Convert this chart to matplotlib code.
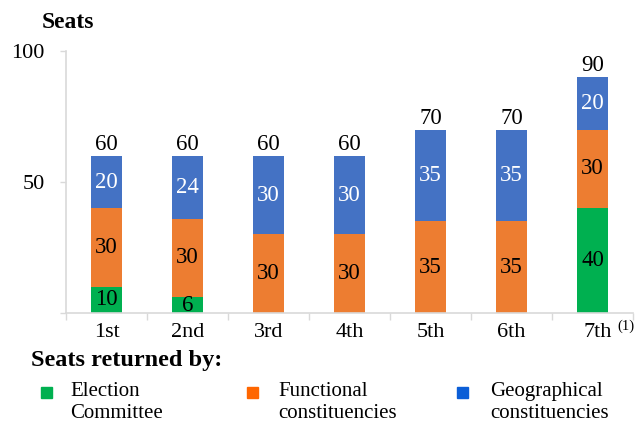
import matplotlib.pyplot as plt
import matplotlib.transforms as mtransforms
import numpy as np

plt.rcParams['font.family'] = ['Liberation Serif', 'DejaVu Serif']

categories = ['1st', '2nd', '3rd', '4th', '5th', '6th', '7th']
election_committee = [10, 6, 0, 0, 0, 0, 40]
functional = [30, 30, 30, 30, 35, 35, 30]
geographical = [20, 24, 30, 30, 35, 35, 20]
series_names = ['Election\nCommittee', 'Functional\nconstituencies', 'Geographical\nconstituencies']

c_green = '#00B050'
c_orange = '#ED7D31'
c_blue = '#4472C4'
leg_colors = ['#00B050', '#FF6600', '#0B5ED7']

fig = plt.figure(figsize=(6.38, 4.23), dpi=100)
W, H = 638, 423
ax = fig.add_axes([66 / W, 1 - 313 / H, (633 - 66) / W, (313 - 51) / H])

x = np.arange(len(categories))
ec = np.array(election_committee)
fc = np.array(functional)
gc = np.array(geographical)
bw = 0.395
ax.bar(x, ec, bw, color=c_green)
ax.bar(x, fc, bw, bottom=ec, color=c_orange)
ax.bar(x, gc, bw, bottom=ec + fc, color=c_blue)

fs = 16.5
for i in range(len(x)):
    if ec[i] > 0:
        ax.text(x[i], ec[i] / 2, str(ec[i]), ha='center', va='center', fontsize=fs, color='black')
    ax.text(x[i], ec[i] + fc[i] / 2, str(fc[i]), ha='center', va='center', fontsize=fs, color='black')
    ax.text(x[i], ec[i] + fc[i] + gc[i] / 2, str(gc[i]), ha='center', va='center', fontsize=fs, color='white')
    tot = ec[i] + fc[i] + gc[i]
    ax.text(x[i], tot + 0.3, str(tot), ha='center', va='bottom', fontsize=fs, color='black')

ax.set_xlim(-0.5, 6.5)
ax.set_ylim(0, 100)
ax.set_yticks([0, 50, 100])
ax.set_yticklabels(['', '50', '100'], fontsize=16)
ax.set_xticks(x)
ax.set_xticklabels(categories, fontsize=16)
ax.tick_params(axis='x', length=0, pad=7.5)
ax.set_xticks(np.arange(-0.5, 7, 1), minor=True)
ax.tick_params(axis='x', which='minor', length=5, color='#D9D9D9', width=1)
ax.tick_params(axis='y', length=4.5, color='#D9D9D9', width=1, pad=11)
lbl = ax.get_xticklabels()[-1]
lbl.set_transform(lbl.get_transform() + mtransforms.ScaledTranslation(5 / 100, 0, fig.dpi_scale_trans))
for s in ['top', 'right']:
    ax.spines[s].set_visible(False)
for s in ['left', 'bottom']:
    ax.spines[s].set_color('#D9D9D9')
    ax.spines[s].set_linewidth(1.2)

fig.text(42 / W, 1 - 23 / H, 'Seats', fontsize=17, fontweight='bold', va='center', ha='left')
fig.text(617 / W, 1 - 326 / H, '(1)', fontsize=10.5, va='center', ha='left')
fig.text(31 / W, 1 - 360 / H, 'Seats returned by:', fontsize=17.5, fontweight='bold', va='center', ha='left')

mx = [46, 252, 462]
tx = [70, 278, 490]
for m, t, col, name in zip(mx, tx, leg_colors, series_names):
    fig.patches.append(plt.Rectangle(((m - 5.5) / W, 1 - 398 / H), 11 / W, 11 / H,
                                     transform=fig.transFigure, color=col, figure=fig))
    fig.text(t / W, 1 - 402.5 / H, name, fontsize=15, va='center', ha='left', linespacing=1.22)

fig.savefig('out.png', dpi=100)
